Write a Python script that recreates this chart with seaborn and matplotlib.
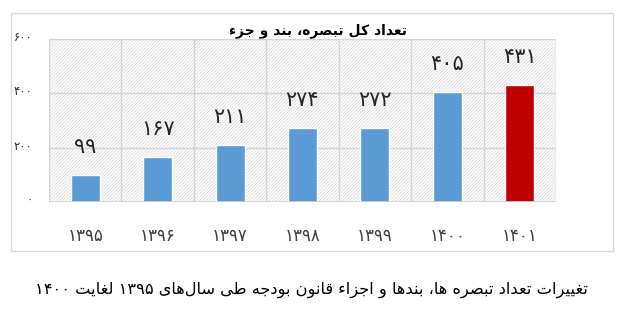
import re
import matplotlib
matplotlib.use("Agg")
import matplotlib.pyplot as plt
from matplotlib.patches import Rectangle
from matplotlib.transforms import ScaledTranslation
import seaborn as sns
import pandas as pd

# ---------------- data ----------------
years = [1395, 1396, 1397, 1398, 1399, 1400, 1401]
counts = [99, 167, 211, 274, 272, 405, 431]
bar_colors = ["#5B9BD5"] * 6 + ["#C00000"]
y_ticks = [0, 200, 400, 600]
title_text = "تعداد کل تبصره، بند و جزء"
caption_text = "تغییرات تعداد تبصره ها، بندها و اجزاء قانون بودجه طی سال\u200cهای ۱۳۹۵ لغایت ۱۴۰۰"

# ---------------- Persian text helpers ----------------
FA_DIGITS = str.maketrans("0123456789", "۰۱۲۳۴۵۶۷۸۹")


def fa_num(n):
    return str(n).translate(FA_DIGITS)


def _four(start):
    return (start, start + 1, start + 2, start + 3)


FORMS = {
    "\u0621": (0xFE80,),
    "\u0622": (0xFE81, 0xFE82),
    "\u0623": (0xFE83, 0xFE84),
    "\u0624": (0xFE85, 0xFE86),
    "\u0625": (0xFE87, 0xFE88),
    "\u0626": _four(0xFE89),
    "\u0627": (0xFE8D, 0xFE8E),
    "\u0628": _four(0xFE8F),
    "\u0629": (0xFE93, 0xFE94),
    "\u062A": _four(0xFE95),
    "\u062B": _four(0xFE99),
    "\u062C": _four(0xFE9D),
    "\u062D": _four(0xFEA1),
    "\u062E": _four(0xFEA5),
    "\u062F": (0xFEA9, 0xFEAA),
    "\u0630": (0xFEAB, 0xFEAC),
    "\u0631": (0xFEAD, 0xFEAE),
    "\u0632": (0xFEAF, 0xFEB0),
    "\u0633": _four(0xFEB1),
    "\u0634": _four(0xFEB5),
    "\u0635": _four(0xFEB9),
    "\u0636": _four(0xFEBD),
    "\u0637": _four(0xFEC1),
    "\u0638": _four(0xFEC5),
    "\u0639": _four(0xFEC9),
    "\u063A": _four(0xFECD),
    "\u0641": _four(0xFED1),
    "\u0642": _four(0xFED5),
    "\u0643": _four(0xFED9),
    "\u0644": _four(0xFEDD),
    "\u0645": _four(0xFEE1),
    "\u0646": _four(0xFEE5),
    "\u0647": _four(0xFEE9),
    "\u0648": (0xFEED, 0xFEEE),
    "\u0649": (0xFEEF, 0xFEF0),
    "\u064A": _four(0xFEF1),
    "\u067E": _four(0xFB56),
    "\u0686": _four(0xFB7A),
    "\u0698": (0xFB8A, 0xFB8B),
    "\u06A9": _four(0xFB8E),
    "\u06AF": _four(0xFB92),
    "\u06CC": _four(0xFBFC),
}


def fa(s):
    chars = list(s)
    out = []
    for i, c in enumerate(chars):
        f = FORMS.get(c)
        if f is None:
            out.append(c)
            continue
        pf = FORMS.get(chars[i - 1]) if i > 0 else None
        nf = FORMS.get(chars[i + 1]) if i + 1 < len(chars) else None
        jp = pf is not None and len(pf) == 4 and len(f) >= 2
        jn = len(f) == 4 and nf is not None and len(nf) >= 2
        if jp and jn:
            g = f[3]
        elif jp:
            g = f[1]
        elif jn:
            g = f[2]
        else:
            g = f[0]
        out.append(chr(g))
    text = "".join(out).replace("\u200c", "")
    rev = text[::-1]
    return re.sub(r"[\u06F0-\u06F90-9]+", lambda m: m.group(0)[::-1], rev)


# ---------------- plot ----------------
sns.set_theme(style="white")
plt.rcParams["font.family"] = ["DejaVu Sans"]
plt.rcParams["hatch.linewidth"] = 0.6

labels = [fa_num(y) for y in years]
df = pd.DataFrame({"year": labels, "count": counts})

fig = plt.figure(figsize=(6.2, 3.14), dpi=100)
fig.patch.set_facecolor("white")
ax = fig.add_axes([49 / 620, 1 - 202 / 314, (556 - 49) / 620, (202 - 39) / 314])

# hatched background of plot area
bg = Rectangle((0, 0), 1, 1, transform=ax.transAxes, facecolor="white",
               edgecolor="#dcdcdc", hatch="//////////", lw=0, zorder=0)
ax.add_patch(bg)

sns.barplot(data=df, x="year", y="count", hue="year", palette=bar_colors,
            width=0.4, legend=False, ax=ax, zorder=3, saturation=1)

ax.set_ylim(0, 600)
ax.set_xlim(-0.5, len(years) - 0.5)
ax.set_yticks(y_ticks)
ax.set_yticklabels([fa_num(v) for v in y_ticks], fontsize=8.5, color="#333333")
ax.set_xticks(range(len(years)))
ax.set_xticklabels(labels, fontsize=12, color="#404040")
ax.tick_params(axis="x", length=0, pad=18)
ax.tick_params(axis="y", length=0, pad=12)
for lab in ax.get_yticklabels():
    lab.set_transform(lab.get_transform() + ScaledTranslation(0, 0.03, fig.dpi_scale_trans))
ax.set_xlabel("")
ax.set_ylabel("")

# grid
for v in y_ticks[1:]:
    ax.axhline(v, color="#d4d4d4", lw=1, zorder=1)
for k in range(len(years) + 1):
    ax.axvline(k - 0.5, color="#d4d4d4", lw=1, zorder=1)
for s in ax.spines.values():
    s.set_visible(False)
ax.axhline(0, color="#d0d0d0", lw=1.2, zorder=4)

# value labels
for container in ax.containers:
    ax.bar_label(container, labels=[fa_num(int(round(b.get_height()))) for b in container],
                 padding=13, fontsize=15, color="#262626")

# title
fig.text(318 / 620, 1 - 31 / 314, fa(title_text), ha="center", va="center",
         fontsize=10, fontweight="bold", color="#000000")

# outer chart box
fig.patches.append(Rectangle((11 / 620, 1 - 251 / 314), (613 - 11) / 620, (251 - 13) / 314,
                             transform=fig.transFigure, fill=False,
                             edgecolor="#d9d9d9", lw=1))

# caption
fig.text(312 / 620, 1 - 290 / 314, fa(caption_text), ha="center", va="center",
         fontsize=11.7, color="#000000")

fig.savefig("out.png", dpi=100, facecolor="white")
